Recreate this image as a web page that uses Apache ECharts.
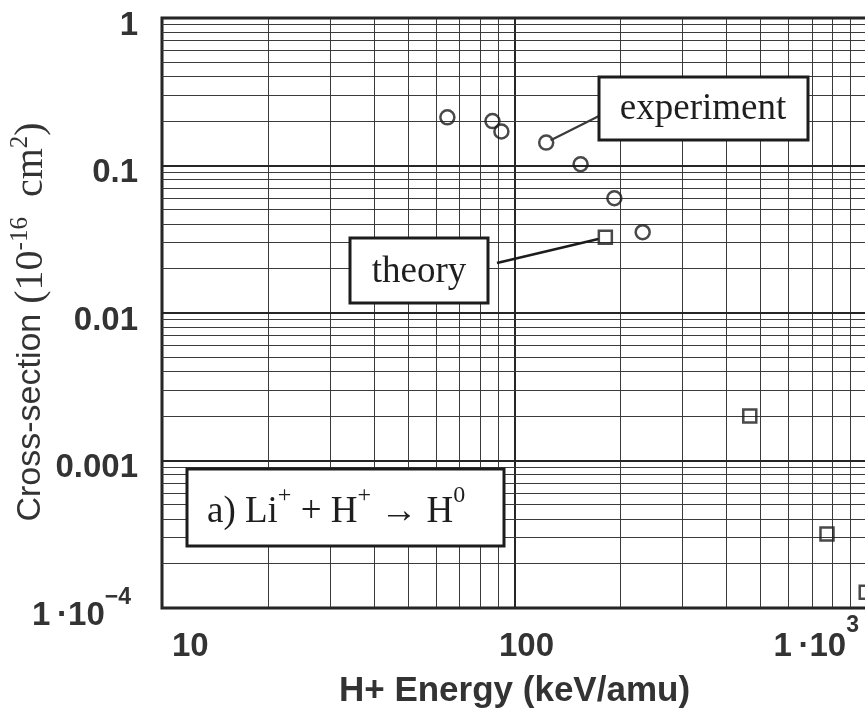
<!DOCTYPE html>
<html>
<head>
<meta charset="utf-8">
<title>Li+ + H+ → H0 cross-section</title>
<script src="https://cdn.jsdelivr.net/npm/echarts@6/dist/echarts.min.js"></script>
<style>
  html, body { margin: 0; padding: 0; background: #fff; }
  #chart { width: 865px; height: 719px; }
</style>
</head>
<body>
<div id="chart"></div>
<script>
// Charge-transfer cross-section, energy in keV/amu, sigma in 1e-16 cm^2
const experimentEnergy = [64.5, 86.6, 91.8, 123, 154, 192, 231];
const experimentSigma  = [0.212, 0.200, 0.170, 0.143, 0.102, 0.060, 0.0353];
const theoryEnergy = [181, 465, 770, 995];
const theorySigma  = [0.0326, 0.0020, 0.000318, 0.000128];

// Axis ticks: [base text, superscript]
const xTickValues = [10, 100, 1000];
const xTickLabels = [['10', ''], ['100', ''], ['1\u2009·10', '3']];
const yTickValues = [1, 0.1, 0.01, 0.001, 0.0001];
const yTickLabels = [['1', ''], ['0.1', ''], ['0.01', ''], ['0.001', ''], ['1\u2009·10', '−4']];

const X_MIN = 10, X_MAX = 1000, Y_MIN = 0.0001, Y_MAX = 1;
const MINOR_STEPS = [2, 3, 4, 5, 6, 7, 8, 9];

const SANS = '"Liberation Sans", Arial, Helvetica, sans-serif';
const SERIF = '"Liberation Serif", "Times New Roman", Times, serif';
const INK = '#1c1c1c';
const TEXT = '#333';

// Log-paper lines: every decade plus 2..9 inside each decade
function logPaper(min, max) {
  const major = [], minor = [];
  const e0 = Math.round(Math.log10(min)), e1 = Math.round(Math.log10(max));
  for (let e = e0; e <= e1; e++) {
    const d = Math.pow(10, e);
    major.push(d);
    if (e < e1) MINOR_STEPS.forEach(m => minor.push(m * d));
  }
  return { major, minor };
}
const xPaper = logPaper(X_MIN, X_MAX);
const yPaper = logPaper(Y_MIN, Y_MAX);
// [x, y, kind]: 0 vertical minor, 1 vertical major, 2 horizontal minor, 3 horizontal major
const paperLines = []
  .concat(xPaper.minor.map(v => [v, 0.01, 0]))
  .concat(xPaper.major.map(v => [v, 0.01, 1]))
  .concat(yPaper.minor.map(v => [100, v, 2]))
  .concat(yPaper.major.map(v => [100, v, 3]));

function renderPaperLine(params, api) {
  const kind = api.value(2);
  const vertical = kind < 2;
  const major = kind === 1 || kind === 3;
  const w = major ? 2 : 1;
  let p1, p2;
  if (vertical) {
    p1 = api.coord([api.value(0), Y_MIN]);
    p2 = api.coord([api.value(0), Y_MAX]);
  } else {
    p1 = api.coord([X_MIN, api.value(1)]);
    p2 = api.coord([X_MAX, api.value(1)]);
  }
  const snap = v => (w % 2 ? Math.round(v - 0.5) + 0.5 : Math.round(v));
  if (vertical) { p1[0] = p2[0] = snap(p1[0]); } else { p1[1] = p2[1] = snap(p1[1]); }
  return {
    type: 'line',
    silent: true,
    shape: { x1: p1[0], y1: p1[1], x2: p2[0], y2: p2[1] },
    style: { stroke: major ? '#262626' : '#3a3a3a', lineWidth: w }
  };
}

function tickIndex(values, v) {
  return values.findIndex(t => Math.abs(Math.log10(t) - Math.log10(v)) < 1e-6);
}

const chart = echarts.init(document.getElementById('chart'), null, { renderer: 'canvas' });

const tickFont = { fontFamily: SANS, fontWeight: 'bold', fontSize: 33, color: TEXT };
const supFont = { fontFamily: SANS, fontWeight: 'bold', fontSize: 23, lineHeight: 22, color: TEXT, verticalAlign: 'top' };

chart.setOption({
  animation: false,
  backgroundColor: '#fff',
  grid: {
    left: 162, top: 18, width: 705, height: 590,
    outerBoundsMode: 'none', containLabel: false,
    show: true, borderColor: INK, borderWidth: 3, backgroundColor: 'transparent'
  },
  xAxis: {
    type: 'log', logBase: 10, min: X_MIN, max: X_MAX,
    axisLine: { show: false }, axisTick: { show: false },
    splitLine: { show: false }, minorSplitLine: { show: false },
    axisLabel: {
      margin: 6,
      showMinLabel: true, showMaxLabel: true,
      alignMinLabel: 'left', alignMaxLabel: 'right',
      formatter: function (v) {
        const i = tickIndex(xTickValues, v);
        if (i < 0) return '';
        const [base, sup] = xTickLabels[i];
        const baseStyle = i === 0 ? 'xfirst' : (i === xTickValues.length - 1 ? 'xb' : 'xmid');
        return '{' + baseStyle + '|' + base + '}' + (sup ? '{xsup|' + sup + '}' : '');
      },
      rich: {
        xb: Object.assign({ lineHeight: 66 }, tickFont),
        xfirst: Object.assign({ lineHeight: 66, padding: [0, 0, 0, 10] }, tickFont),
        xmid: Object.assign({ lineHeight: 66, padding: [0, 0, 0, 24] }, tickFont),
        xsup: Object.assign({ padding: [0, 8, 0, 0] }, supFont)
      }
    },
    name: 'H+ Energy (keV/amu)',
    nameLocation: 'middle',
    nameMoveOverlap: false,
    nameGap: 66,
    nameTextStyle: { fontFamily: SANS, fontWeight: 'bold', fontSize: 35, color: TEXT }
  },
  yAxis: {
    type: 'log', logBase: 10, min: Y_MIN, max: Y_MAX,
    axisLine: { show: false }, axisTick: { show: false },
    splitLine: { show: false }, minorSplitLine: { show: false },
    axisLabel: {
      margin: 24,
      padding: [15, 0, 0, 0],
      showMinLabel: true, showMaxLabel: true,
      formatter: function (v) {
        const i = tickIndex(yTickValues, v);
        if (i < 0) return '';
        const [base, sup] = yTickLabels[i];
        return '{yb|' + base + '}' + (sup ? '{ysup|' + sup + '}' : '');
      },
      rich: {
        yb: Object.assign({ lineHeight: 58 }, tickFont),
        ysup: Object.assign({ padding: [0, 7, 0, 0] }, supFont)
      }
    },
    name: '{ya|Cross-section}{ys| (10}{ysup|-16}{ys|  cm}{ysup|2}{ys|)}',
    nameLocation: 'middle',
    nameMoveOverlap: false,
    nameRotate: 90,
    nameGap: 108,
    nameTextStyle: {
      padding: [0, 18, 0, 0],
      rich: {
        ya: { fontFamily: SANS, fontSize: 34, lineHeight: 46, color: TEXT },
        ys: { fontFamily: SERIF, fontSize: 40, lineHeight: 46, color: TEXT },
        ysup: { fontFamily: SERIF, fontSize: 25, lineHeight: 25, color: TEXT, verticalAlign: 'top' }
      }
    }
  },
  series: [
    {
      type: 'custom',
      name: 'log paper',
      coordinateSystem: 'cartesian2d',
      renderItem: renderPaperLine,
      data: paperLines,
      silent: true,
      z: 1
    },
    {
      type: 'scatter',
      name: 'experiment',
      data: experimentEnergy.map((x, i) => [x, experimentSigma[i]]),
      symbol: 'circle',
      symbolSize: 14,
      itemStyle: { color: 'rgba(0,0,0,0)', borderColor: INK, borderWidth: 2.5 },
      silent: true,
      z: 5
    },
    {
      type: 'scatter',
      name: 'theory',
      data: theoryEnergy.map((x, i) => [x, theorySigma[i]]),
      symbol: 'rect',
      symbolSize: 13,
      itemStyle: { color: 'rgba(0,0,0,0)', borderColor: INK, borderWidth: 2.5 },
      silent: true,
      z: 5
    }
  ]
});

// Callout boxes with leader lines to the marks they name
const expPt = chart.convertToPixel({ gridIndex: 0 }, [experimentEnergy[3], experimentSigma[3]]);
const thPt = chart.convertToPixel({ gridIndex: 0 }, [theoryEnergy[0], theorySigma[0]]);

function toCircleEdge(center, from, r) {
  const dx = from[0] - center[0], dy = from[1] - center[1];
  const len = Math.hypot(dx, dy) || 1;
  return [center[0] + dx / len * r, center[1] + dy / len * r];
}
function toSquareEdge(center, from, half) {
  const dx = from[0] - center[0], dy = from[1] - center[1];
  const k = half / Math.max(Math.abs(dx), Math.abs(dy));
  return [center[0] + dx * k, center[1] + dy * k];
}

const expFrom = [603, 114];
const expTo = toCircleEdge(expPt, expFrom, 5);
const thFrom = [497, 263];
const thTo = toSquareEdge(thPt, thFrom, 7);

const boxStyle = { fill: '#fff', stroke: INK, lineWidth: 3 };
const calloutText = (txt, x, y) => ({
  type: 'text', x: x, y: y, z: 12, silent: true,
  style: {
    text: txt, fontFamily: SERIF, fontSize: 37, fill: '#1e1e1e',
    align: 'center', verticalAlign: 'middle', textAlign: 'center', textVerticalAlign: 'middle'
  }
});

chart.setOption({
  graphic: {
    elements: [
      { type: 'line', z: 6, silent: true,
        shape: { x1: expFrom[0], y1: expFrom[1], x2: expTo[0], y2: expTo[1] },
        style: { stroke: '#3a3a3a', lineWidth: 2.2 } },
      { type: 'line', z: 6, silent: true,
        shape: { x1: thFrom[0], y1: thFrom[1], x2: thTo[0], y2: thTo[1] },
        style: { stroke: INK, lineWidth: 2.5 } },
      { type: 'rect', z: 11, silent: true, shape: { x: 599, y: 77, width: 209, height: 63 }, style: boxStyle },
      calloutText('experiment', 703, 109),
      { type: 'rect', z: 11, silent: true, shape: { x: 350, y: 238, width: 138, height: 65 }, style: boxStyle },
      calloutText('theory', 419, 272),
      { type: 'rect', z: 11, silent: true, shape: { x: 187, y: 469, width: 317, height: 77 }, style: boxStyle },
      {
        type: 'text', x: 207, y: 512, z: 12, silent: true,
        style: {
          text: '{t|a) Li}{s|+}{t| + H}{s|+}{t| → H}{s|0}',
          align: 'left', verticalAlign: 'middle', textAlign: 'left', textVerticalAlign: 'middle',
          fill: '#1e1e1e',
          rich: {
            t: { fontFamily: SERIF, fontSize: 37, lineHeight: 56, fill: '#1e1e1e', color: '#1e1e1e' },
            s: { fontFamily: SERIF, fontSize: 24, lineHeight: 24, fill: '#1e1e1e', color: '#1e1e1e', verticalAlign: 'top' }
          }
        }
      }
    ]
  }
});
</script>
</body>
</html>
